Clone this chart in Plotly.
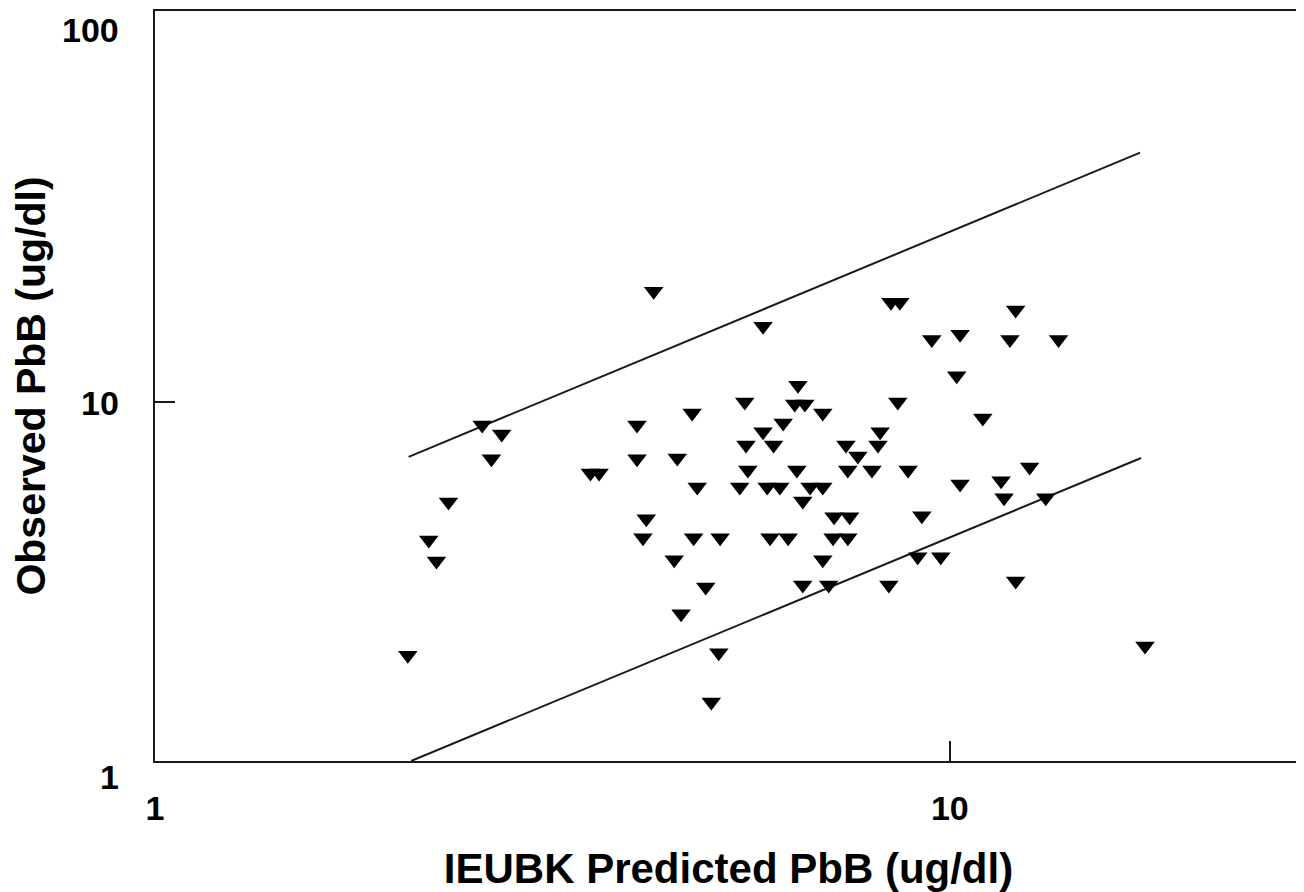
import plotly.graph_objects as go

# Observed vs IEUBK predicted blood lead (ug/dl)
predicted = [2.08, 2.21, 2.26, 2.34, 2.58, 2.73, 2.65, 3.53, 3.62, 4.04,
             4.04, 4.24, 4.15, 4.11, 4.50, 4.59, 4.54, 4.74, 4.81, 4.76,
             4.93, 5.14, 5.12, 5.01, 5.44, 5.52, 5.54, 5.57, 5.82, 5.82,
             6.00, 5.89, 6.11, 5.94, 6.26, 6.17, 6.44, 6.38, 6.57, 6.42,
             6.53, 6.67, 6.92, 6.92, 6.53, 6.92, 7.04, 7.15, 7.48, 7.13,
             7.44, 7.40, 7.44, 7.66, 7.98, 8.12, 8.17, 8.43, 8.65, 8.60,
             8.38, 8.86, 9.22, 9.11, 9.74, 9.49, 10.3, 10.2, 10.3, 11.0,
             11.6, 11.7, 12.1, 11.9, 12.1, 12.6, 13.2, 13.7, 17.6]
observed = [1.97, 4.12, 3.60, 5.26, 8.61, 8.13, 6.93, 6.33, 6.33, 8.61,
            6.93, 20.3, 4.72, 4.18, 3.63, 2.57, 6.97, 9.30, 5.79, 4.18,
            3.05, 4.18, 2.00, 1.46, 5.79, 9.98, 7.58, 6.45, 16.2, 8.24,
            7.58, 5.79, 5.79, 4.18, 4.18, 8.72, 11.1, 9.85, 9.85, 6.45,
            5.29, 5.79, 5.79, 9.30, 3.09, 3.63, 3.09, 4.78, 4.78, 4.18,
            4.18, 7.58, 6.45, 7.06, 6.45, 7.58, 8.24, 18.9, 18.9, 9.98,
            3.09, 6.45, 4.81, 3.70, 3.70, 14.9, 15.4, 11.8, 5.90, 9.01,
            6.02, 5.40, 18.0, 14.9, 3.17, 6.58, 5.40, 14.9, 2.09]

# Reference bounds
upper_x = [2.085, 17.35]
upper_y = [7.02, 49.3]
lower_x = [2.10, 17.4]
lower_y = [1.0, 6.97]

x_tickvals = [1, 10]
x_ticktext = ["1", "10"]
y_tick_labels = ["1", "10", "100"]

FONT = "Liberation Sans, Arial, Helvetica, sans-serif"

# the page body adds an 8px offset, so the figure is 8px smaller
W, H = 1296, 884
plot_left, plot_top, plot_right, plot_bottom = 147, 3, 1294, 753
plot_h = plot_bottom - plot_top

fig = go.Figure()
fig.add_trace(go.Scatter(x=upper_x, y=upper_y, mode="lines",
                         line=dict(color="#1a1a1a", width=2), showlegend=False,
                         hoverinfo="skip"))
fig.add_trace(go.Scatter(x=lower_x, y=lower_y, mode="lines",
                         line=dict(color="#1a1a1a", width=2), showlegend=False,
                         hoverinfo="skip"))
fig.add_trace(go.Scatter(x=predicted, y=observed, mode="markers",
                         marker=dict(symbol="triangle-down", size=17, color="black",
                                     line=dict(width=0)),
                         showlegend=False))

fig.update_layout(
    width=W, height=H,
    margin=dict(l=plot_left, r=W - plot_right, t=plot_top, b=H - plot_bottom),
    paper_bgcolor="white", plot_bgcolor="white",
    font=dict(family=FONT, size=34, color="black", weight="bold"),
    xaxis=dict(type="log", range=[0, 1.443], showgrid=False, zeroline=False,
               showline=True, linecolor="#1a1a1a", linewidth=2, mirror=True,
               tickvals=x_tickvals, ticktext=x_ticktext, ticks="inside",
               ticklen=20, tickwidth=2, tickcolor="#1a1a1a",
               ticklabelstandoff=16,
               tickfont=dict(family=FONT, size=34, color="black", weight="bold"),
               title=dict(text="IEUBK Predicted PbB (ug/dl)", standoff=50,
                          font=dict(family=FONT, size=42, color="black", weight="bold")),
               automargin=False),
    yaxis=dict(type="log", range=[0, 2.087], showgrid=False, zeroline=False,
               showline=True, linecolor="#1a1a1a", linewidth=2, mirror=True,
               tickvals=[10], ticks="inside", ticklen=20, tickwidth=2,
               tickcolor="#1a1a1a", showticklabels=False,
               title=dict(text="Observed PbB (ug/dl)", standoff=101,
                          font=dict(family=FONT, size=41, color="black", weight="bold")),
               automargin=False),
)

# y tick labels sit slightly off the frame in the original figure
y_label_pix = [769, 395, 22]
for txt, py in zip(y_tick_labels, y_label_pix):
    fig.add_annotation(text=txt, xref="paper", yref="paper",
                       x=0, y=(plot_bottom - py) / plot_h,
                       xanchor="right", yanchor="middle", xshift=-35,
                       height=28, valign="middle", borderpad=0,
                       showarrow=False,
                       font=dict(family=FONT, size=34, color="black", weight="bold"))

fig.write_html("out.html")
